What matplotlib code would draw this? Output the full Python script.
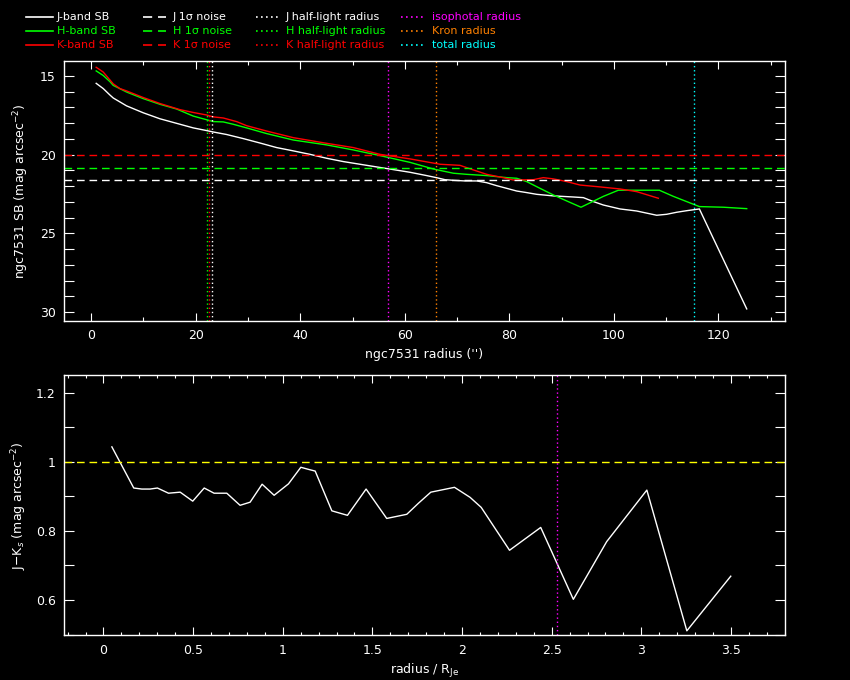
import matplotlib
matplotlib.use("Agg")
import matplotlib.pyplot as plt
from matplotlib.lines import Line2D
from matplotlib.ticker import MultipleLocator, FuncFormatter

plt.rcParams['font.family'] = ['DejaVu Sans']

# ---------------- data ----------------
j_r = [0.96, 2.3, 3.58, 4.22, 6.77, 9.96, 13.15, 16.34, 19.53, 22.08, 23.36, 25.91,
       29.1, 32.29, 35.48, 38.67, 41.86, 45.05, 48.24, 51.43, 54.62, 57.81, 61.0,
       64.19, 66.04, 67.69, 69.29, 71.52, 73.76, 75.67, 77.58, 79.5, 81.41, 83.32,
       85.24, 88.43, 92.26, 94.17, 96.08, 98.0, 101.19, 104.38, 108.2, 110.1,
       112.03, 113.95, 116.37, 125.43]
j_sb = [15.47, 15.8, 16.21, 16.4, 16.9, 17.34, 17.72, 18.01, 18.3, 18.47, 18.56, 18.72,
        18.98, 19.26, 19.55, 19.76, 19.98, 20.23, 20.44, 20.61, 20.78, 20.95, 21.12,
        21.33, 21.46, 21.59, 21.63, 21.67, 21.67, 21.78, 21.97, 22.14, 22.31, 22.41,
        22.52, 22.62, 22.69, 22.73, 22.98, 23.2, 23.45, 23.58, 23.85, 23.79,
        23.66, 23.56, 23.45, 29.8]

h_r = [0.96, 2.3, 3.58, 4.22, 6.77, 9.96, 13.15, 16.34, 19.53, 22.08, 23.36, 25.27,
       27.18, 29.74, 33.56, 38.67, 45.05, 50.15, 55.25, 61.0, 65.46, 69.29, 71.84,
       75.67, 79.5, 81.41, 83.32, 85.88, 88.43, 90.98, 93.72, 98.0, 100.87, 108.71,
       111.39, 116.37, 120.96, 125.43]
h_sb = [14.68, 14.97, 15.36, 15.6, 16.02, 16.44, 16.8, 17.1, 17.55, 17.78, 17.9, 17.92,
        18.07, 18.3, 18.66, 19.07, 19.38, 19.7, 20.06, 20.49, 20.91, 21.18, 21.25,
        21.33, 21.46, 21.5, 21.71, 22.14, 22.56, 22.94, 23.34, 22.65, 22.26, 22.26,
        22.65, 23.3, 23.34, 23.43]

k_r = [0.96, 2.3, 3.58, 4.22, 5.49, 6.77, 9.96, 13.15, 16.98, 19.53, 22.08, 23.36,
       25.27, 27.82, 29.74, 33.56, 38.67, 45.05, 50.15, 55.25, 61.0, 66.74, 70.57,
       73.12, 75.67, 78.22, 80.77, 84.6, 86.51, 88.43, 90.98, 93.53, 97.36, 101.19,
       104.38, 108.52]
k_sb = [14.45, 14.75, 15.25, 15.5, 15.8, 15.95, 16.37, 16.75, 17.14, 17.32, 17.48, 17.6,
        17.67, 17.9, 18.16, 18.5, 18.92, 19.28, 19.55, 19.98, 20.27, 20.61, 20.68,
        20.97, 21.25, 21.42, 21.61, 21.59, 21.46, 21.54, 21.71, 21.93, 22.05, 22.18,
        22.35, 22.77]

noise_j, noise_h, noise_k = 21.63, 20.87, 20.02
rhalf_j, rhalf_h, rhalf_k = 23.17, 22.08, 22.47
r_iso, r_kron, r_total = 56.85, 66.0, 115.4

jk_r = [0.047, 0.169, 0.214, 0.26, 0.301, 0.363, 0.428, 0.498, 0.562, 0.617, 0.688,
        0.762, 0.818, 0.885, 0.952, 1.032, 1.101, 1.143, 1.181, 1.274, 1.361, 1.465,
        1.58, 1.692, 1.757, 1.826, 1.958, 2.045, 2.107, 2.265, 2.439, 2.621, 2.807,
        3.031, 3.254, 3.499]
jk = [1.043, 0.924, 0.921, 0.921, 0.924, 0.909, 0.912, 0.886, 0.924, 0.909, 0.909,
      0.874, 0.883, 0.935, 0.903, 0.936, 0.984, 0.978, 0.973, 0.858, 0.845, 0.921,
      0.836, 0.848, 0.88, 0.912, 0.926, 0.897, 0.868, 0.744, 0.81, 0.602, 0.769,
      0.918, 0.511, 0.669]
jk_ref = 1.0
r_iso_over_rje = 2.53

# ---------------- style ----------------
WHITE = 'white'
GREEN = '#00ff00'
RED = '#ff0000'
MAGENTA = '#ff00ff'
ORANGE = '#ff8000'
CYAN = '#00ffff'
YELLOW = '#ffff00'
DASH = (0, (5.5, 3.5))
DOT = (0, (1.0, 2.0))
FS = 9

fig = plt.figure(figsize=(8.5, 6.8), dpi=100, facecolor='black')
ax1 = fig.add_axes([0.0753, 0.5279, 0.8479, 0.3824])
ax2 = fig.add_axes([0.0753, 0.0657, 0.8479, 0.3824])

for ax in (ax1, ax2):
    ax.set_facecolor('black')
    for s in ax.spines.values():
        s.set_color(WHITE)
        s.set_linewidth(1.0)
    ax.tick_params(which='both', direction='in', colors=WHITE, top=True, right=True,
                   width=0.8, labelsize=FS, pad=6)

# ---------- top panel ----------
ax1.plot(j_r, j_sb, color=WHITE, lw=1)
ax1.plot(h_r, h_sb, color=GREEN, lw=1)
ax1.plot(k_r, k_sb, color=RED, lw=1)
ax1.axhline(noise_j, color=WHITE, lw=1, ls=DASH)
ax1.axhline(noise_h, color=GREEN, lw=1, ls=DASH)
ax1.axhline(noise_k, color=RED, lw=1, ls=DASH)
ax1.axvline(rhalf_j, color=WHITE, lw=1, ls=DOT)
ax1.axvline(rhalf_h, color=GREEN, lw=1, ls=DOT)
ax1.axvline(rhalf_k, color=RED, lw=1, ls=DOT)
ax1.axvline(r_iso, color=MAGENTA, lw=1, ls=DOT)
ax1.axvline(r_kron, color=ORANGE, lw=1, ls=DOT)
ax1.axvline(r_total, color=CYAN, lw=1, ls=DOT)

ax1.set_xlim(-5.2, 132.7)
ax1.set_ylim(30.57, 14.05)
ax1.xaxis.set_major_locator(MultipleLocator(20))
ax1.xaxis.set_minor_locator(MultipleLocator(10))
ax1.yaxis.set_major_locator(MultipleLocator(5))
ax1.yaxis.set_minor_locator(MultipleLocator(1))
ax1.tick_params(axis='x', which='major', length=6)
ax1.tick_params(axis='x', which='minor', length=3)
ax1.tick_params(axis='y', which='both', length=7)
ax1.set_xlabel("ngc7531 radius ('')", color=WHITE, fontsize=FS, labelpad=4)
ax1.set_ylabel(r"ngc7531 SB (mag arcsec$^{-2}$)", color=WHITE, fontsize=FS, labelpad=6)

# ---------- bottom panel ----------
ax2.plot(jk_r, jk, color=WHITE, lw=1)
ax2.axhline(jk_ref, color=YELLOW, lw=1, ls=DASH)
ax2.axvline(r_iso_over_rje, color=MAGENTA, lw=1, ls=DOT)
ax2.set_xlim(-0.22, 3.80)
ax2.set_ylim(0.498, 1.25)
ax2.xaxis.set_major_locator(MultipleLocator(0.5))
ax2.xaxis.set_minor_locator(MultipleLocator(0.1))
ax2.yaxis.set_major_locator(MultipleLocator(0.2))
ax2.yaxis.set_minor_locator(MultipleLocator(0.1))
ax2.xaxis.set_major_formatter(FuncFormatter(lambda v, p: f"{v:g}"))
ax2.yaxis.set_major_formatter(FuncFormatter(lambda v, p: f"{v:g}"))
ax2.tick_params(axis='x', which='major', length=6)
ax2.tick_params(axis='x', which='minor', length=2.5)
ax2.tick_params(axis='y', which='both', length=7)
ax2.set_xlabel(r"radius / R$_{\rm Je}$", color=WHITE, fontsize=FS, labelpad=4)
ax2.set_ylabel(r"J$-$K$_s$ (mag arcsec$^{-2}$)", color=WHITE, fontsize=FS, labelpad=5)

# ---------- legend (figure header) ----------
W, H = 850.0, 680.0
legend_items = [
    # (x_line0, x_line1, x_text, y, color, style, label)
    (26, 53, 57, 17, WHITE, '-', 'J-band SB'),
    (26, 53, 57, 31, GREEN, '-', 'H-band SB'),
    (26, 53, 57, 45, RED, '-', 'K-band SB'),
    (143, 166, 173, 17, WHITE, DASH, 'J 1\u03c3 noise'),
    (143, 166, 173, 31, GREEN, DASH, 'H 1\u03c3 noise'),
    (143, 166, 173, 45, RED, DASH, 'K 1\u03c3 noise'),
    (256, 280, 286, 17, WHITE, DOT, 'J half-light radius'),
    (256, 280, 286, 31, GREEN, DOT, 'H half-light radius'),
    (256, 280, 286, 45, RED, DOT, 'K half-light radius'),
    (401, 426, 432, 17, MAGENTA, DOT, 'isophotal radius'),
    (401, 426, 432, 31, ORANGE, DOT, 'Kron radius'),
    (401, 426, 432, 45, CYAN, DOT, 'total radius'),
]
for x0, x1, xt, y, c, ls, lab in legend_items:
    fig.add_artist(Line2D([x0 / W, x1 / W], [1 - y / H, 1 - y / H],
                          transform=fig.transFigure, color=c, lw=1.2, ls=ls))
    fig.text(xt / W, 1 - y / H, lab, color=c, fontsize=8, va='center', ha='left')

fig.savefig('out.png', dpi=100, facecolor='black')
